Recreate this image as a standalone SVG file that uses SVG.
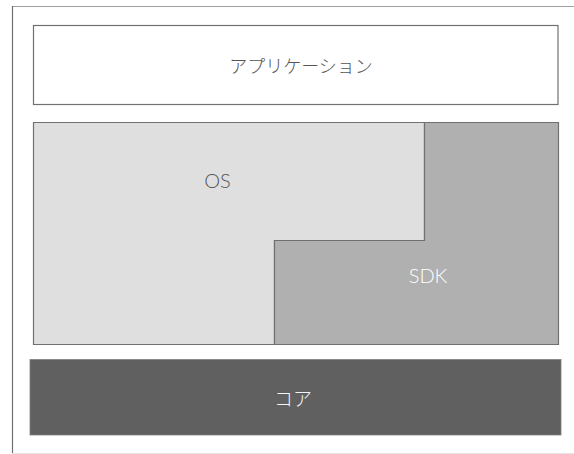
<svg xmlns="http://www.w3.org/2000/svg" width="574" height="454" viewBox="0 0 574 454">
<style>
.lbl{font-family:Lato,"Noto Sans CJK JP",sans-serif;text-anchor:middle;font-weight:300}
.jp{font-family:"Noto Sans CJK JP",sans-serif;text-anchor:middle;font-weight:300}
.box{stroke:#707070;stroke-width:1.2}
</style>
<g id="frame">
<rect x="0" y="0" width="574" height="454" fill="#ffffff"/>
<line x1="12" y1="6.5" x2="574" y2="6.5" stroke="#a0a0a0" stroke-width="1.2"/>
<line x1="12.5" y1="6" x2="12.5" y2="453" stroke="#707070" stroke-width="1.2"/>
<line x1="12" y1="453.5" x2="574" y2="453.5" stroke="#e4e4e4" stroke-width="1.2"/>
</g>
<g id="app">
<rect class="box" x="33.5" y="25.5" width="524.5" height="79" fill="#ffffff"/>
<text class="jp" x="301" y="73" font-size="18" fill="#555555">アプリケーション</text>
</g>
<g id="os">
<path class="box" d="M33.5,122.5 H424.5 V240.5 H274.5 V344.5 H33.5 Z" fill="#dfdfdf"/>
<text class="lbl" x="217.5" y="187.5" font-size="20" fill="#555555">OS</text>
</g>
<g id="sdk">
<path class="box" d="M424.5,122.5 H558.5 V344.5 H274.5 V240.5 H424.5 Z" fill="#b0b0b0"/>
<text class="lbl" x="428" y="283" font-size="20" fill="#ffffff">SDK</text>
</g>
<g id="core">
<rect x="30" y="359.5" width="531" height="75.5" fill="#606060" stroke="#808080" stroke-width="0.8"/>
<text class="jp" x="293" y="406" font-size="19" fill="#f4f4f4">コア</text>
</g>
<g id="connectors"></g>
</svg>
